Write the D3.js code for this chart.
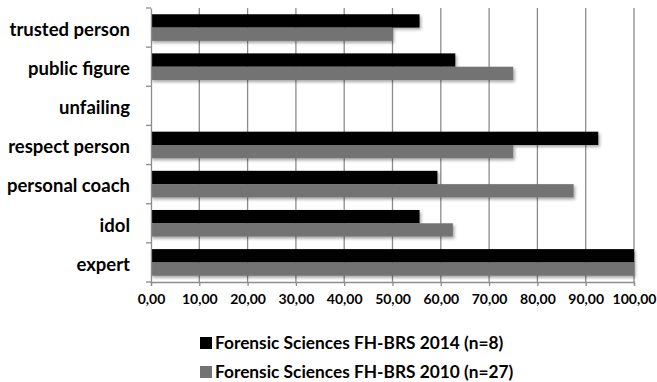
<!DOCTYPE html>
<html><head><meta charset="utf-8">
<script src="https://cdn.jsdelivr.net/npm/d3@7"></script>
<style>body{margin:0;background:#fff}svg{display:block}</style>
</head><body>
<script>
const categories = ["trusted person","public figure","unfailing","respect person","personal coach","idol","expert"];
const series2014 = [55.6, 63.0, 0, 92.6, 59.3, 55.6, 100];
const series2010 = [50.0, 75.0, 0, 75.0, 87.5, 62.5, 100];
const seriesNames = ["Forensic Sciences FH-BRS 2014 (n=8)", "Forensic Sciences FH-BRS 2010 (n=27)"];
const seriesColors = ["#000000", "#737373"];
const xTicks = [0,10,20,30,40,50,60,70,80,90,100];

const W = 657, H = 382;
const m = {left:151, right:23, top:8, bottom:100};
const svg = d3.select("body").append("svg").attr("width",W).attr("height",H);
const defs = svg.append("defs");
const f = defs.append("filter").attr("id","sh").attr("x","-5%").attr("y","-50%").attr("width","115%").attr("height","250%");
f.append("feDropShadow").attr("dx",1.5).attr("dy",2).attr("stdDeviation",1.5).attr("flood-color","#000").attr("flood-opacity",0.35);

const x = d3.scaleLinear().domain([0,100]).range([m.left, W-m.right]);
const y = d3.scaleBand().domain(categories).range([m.top, H-m.bottom]).paddingInner(0).paddingOuter(0);
const inner = d3.scaleBand().domain([0,1]).range([0, y.bandwidth()]).paddingOuter(0.47).paddingInner(0);

const font = "Lato, 'Open Sans', sans-serif";

// gridlines
svg.append("g").selectAll("line").data(xTicks.slice(1)).join("line")
  .attr("x1",d=>x(d)).attr("x2",d=>x(d)).attr("y1",m.top).attr("y2",H-m.bottom)
  .attr("stroke","#8c8c8c").attr("stroke-width",1.3);

// bars
const data = categories.map((c,i)=>({c, v:[series2014[i], series2010[i]]}));
const g = svg.append("g");
data.forEach(d=>{
  d.v.forEach((v,k)=>{
    if (v<=0) return;
    g.append("rect").attr("x",x(0)).attr("y",y(d.c)+inner(k))
      .attr("width",x(v)-x(0)).attr("height",inner.bandwidth())
      .attr("fill",seriesColors[k]).attr("filter","url(#sh)");
  });
});

// x axis
const xa = svg.append("g").attr("transform",`translate(0,${H-m.bottom})`)
  .call(d3.axisBottom(x).tickValues(xTicks).tickSize(4).tickPadding(8)
    .tickFormat(d=>d3.format(".2f")(d).replace(".",",")));
xa.select(".domain").attr("stroke","#8c8c8c").attr("stroke-width",1.3);
xa.selectAll(".tick line").attr("stroke","#8c8c8c").attr("stroke-width",1.3);
xa.selectAll("text").attr("font-family",font).attr("font-weight","bold").attr("font-size",14).attr("fill","#000");

// y axis
const ya = svg.append("g").attr("transform",`translate(${m.left},0)`)
  .call(d3.axisLeft(y).tickSize(0).tickPadding(21));
ya.select(".domain").attr("stroke","#8c8c8c").attr("stroke-width",1.3);
ya.selectAll("text").attr("font-family",font).attr("font-weight","bold").attr("font-size",18.5).attr("fill","#000").attr("dy","0.45em");
// category separator ticks
svg.append("g").selectAll("line").data(d3.range(categories.length+1)).join("line")
  .attr("x1",m.left-5).attr("x2",m.left)
  .attr("y1",i=>m.top+i*y.step()).attr("y2",i=>m.top+i*y.step())
  .attr("stroke","#8c8c8c").attr("stroke-width",1.3);

// legend
const lg = svg.append("g").attr("transform","translate(200,0)");
seriesNames.forEach((n,k)=>{
  const yy = 343 + k*29;
  lg.append("rect").attr("x",0).attr("y",yy-6).attr("width",12).attr("height",12).attr("fill",seriesColors[k]);
  lg.append("text").attr("x",15).attr("y",yy).attr("dy","0.36em")
    .attr("font-family",font).attr("font-weight","bold").attr("font-size",17.3).text(n);
});
</script>
</body></html>
